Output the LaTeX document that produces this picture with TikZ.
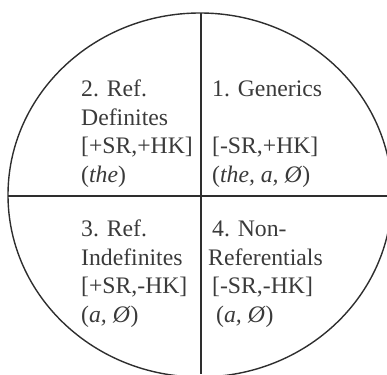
\documentclass[tikz,border=0pt]{standalone}
\usepackage{fontspec}
\setmainfont{Liberation Serif}
\definecolor{lineclr}{HTML}{2E2E2E}
\definecolor{txtclr}{HTML}{3A3A3A}
\begin{document}
\begin{tikzpicture}[x=1pt,y=-1pt]
\tikzset{
  border/.style={draw=lineclr, line width=1.4pt},
  txt/.style={anchor=base west, inner sep=0pt, align=left, text=txtclr,
    font=\fontsize{23.7}{28.4}\selectfont}
}
\useasboundingbox (0,0) rectangle (387,374);
\begin{scope}
  \clip (0,0) rectangle (387,374);
  \draw[border] (200,195) ellipse [x radius=192, y radius=182];
\end{scope}
\coordinate (top) at (201,13);
\coordinate (bottom) at (201,374);
\coordinate (left) at (8,196);
\coordinate (right) at (387,196);
\draw[border] (top) -- (bottom);
\draw[border] (left) -- (right);
\node[txt] (q2) at (81,182) {2. Ref.\\Definites\\{[}+SR,+HK{]}\\(\textit{the})};
\node[txt] (q1) at (212,182) {1. Generics\\\mbox{}\\{[}-SR,+HK{]}\\(\textit{the, a, Ø})};
\node[txt] (q3) at (81,322) {3. Ref.\\Indefinites\\{[}+SR,-HK{]}\\(\textit{a, Ø})};
\node[txt] (q4) at (208,322) {\hspace*{4pt}4. Non-\\Referentials\\\hspace*{4pt}{[}-SR,-HK{]}\\\hspace*{8pt}(\textit{a, Ø})};
\end{tikzpicture}
\end{document}
